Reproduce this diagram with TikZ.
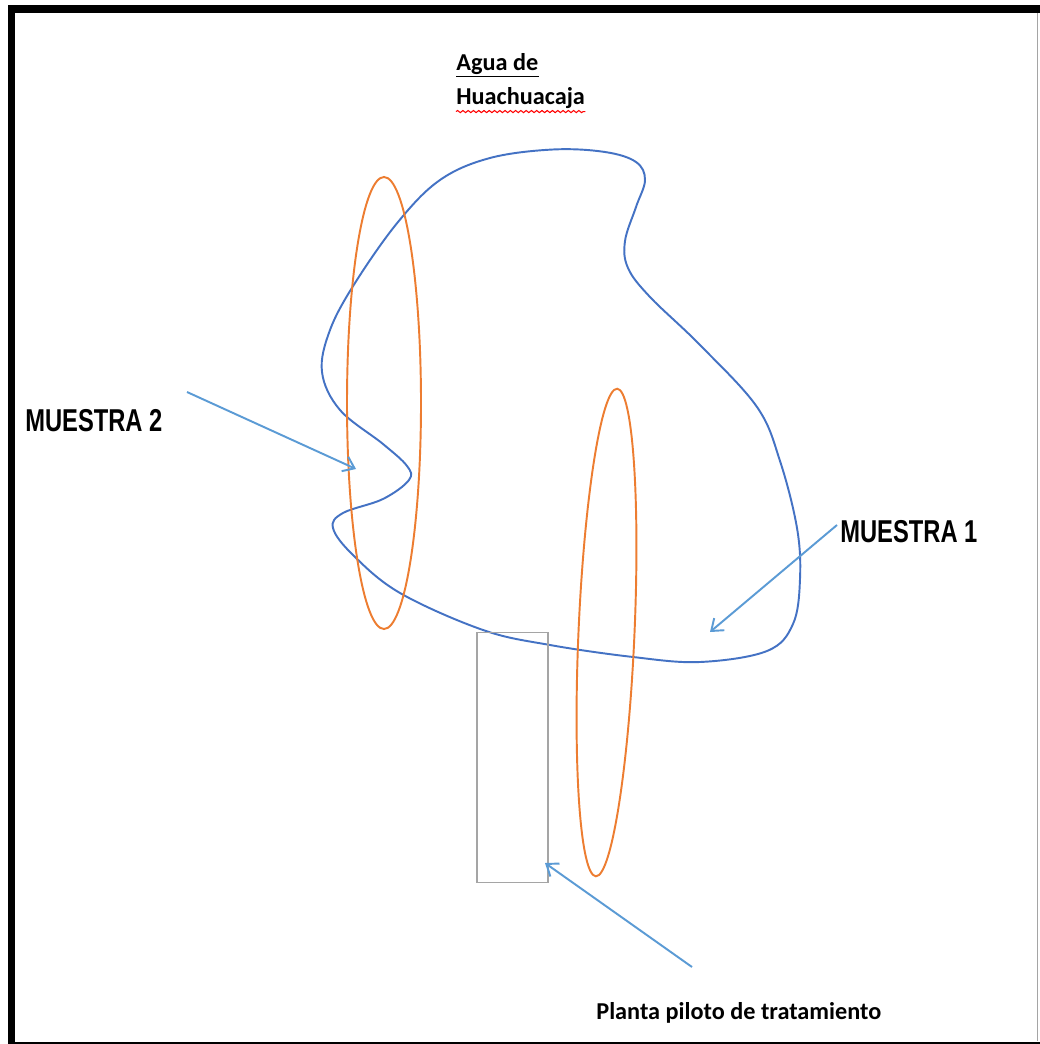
\documentclass[tikz,border=0pt]{standalone}
\usepackage{fontspec}
\usepackage{tikz}
\usetikzlibrary{arrows.meta,decorations.pathmorphing}
\setmainfont{Carlito}
\newfontfamily\narrowsans[FakeStretch=0.75]{Liberation Sans}
\definecolor{msblue}{RGB}{68,114,196}
\definecolor{msorange}{RGB}{237,125,49}
\definecolor{mslight}{RGB}{91,155,213}
\definecolor{msgrey}{RGB}{165,165,165}

\begin{document}
\begin{tikzpicture}[x=.02cm,y=-.02cm,
lbl/.style={font=\narrowsans\bfseries\fontsize{18}{20}\selectfont,anchor=base west,inner sep=0pt},
cal/.style={font=\bfseries\fontsize{13.8}{16}\selectfont,anchor=base west,inner sep=0pt},
arr/.style={-{Straight Barb[length=6pt,width=9pt]},line width=1.1pt,draw=mslight},
oval/.style={draw=msorange,line width=1.1pt},
blob/.style={draw=msblue,line width=1.1pt}]

\useasboundingbox(0,0)rectangle(1039,1044);
\fill[white](0,0)rectangle(1039,1044);
\draw[line width=.15cm](11.5,9)rectangle(1047,1046);
\draw[msgrey,line width=.8pt](1037.5,13)--(1037.5,1041);

\node[cal](agua)at(456,71){Agua de};
\node[cal](huach)at(456,105){Huachuacaja};
\draw[line width=1pt]([yshift=-.6pt]agua.south west)--([yshift=-.6pt]agua.south east);
\draw[red,line width=.6pt,decorate,decoration={snake,amplitude=.6pt,segment length=3pt}]
 ([yshift=-1.2pt]huach.south west)--([yshift=-1.2pt]huach.south east);

\draw[blob]plot[smooth cycle,tension=.6]coordinates{
 (553,149.5)(605,152)(636,162)(645,180)(636,207)(625,241)(628,268)(650,297)
 (700,345)(757,407)(780,461)(797,528)(800,579)(793,624)(767,651)(700,662)
 (633,657)(550,645)(483,630)(400,593)(353,555)(333,528)(343,513)(383,499)
 (409,480)(407,466)(383,444)(340,410)(322,372)(330,330)(355,283)(398,222)
 (440,180)(490,158)};

\draw[oval](384,403)ellipse[x radius=37,y radius=226];
\draw[oval,rotate around={-2.5:(606.5,632.5)}](606.5,632.5)ellipse[x radius=28,y radius=244];

\node[draw=msgrey,line width=1.1pt,minimum width=1.42cm,minimum height=5cm,inner sep=0pt](planta)at(512.5,757.5){};

\node[lbl](m2)at(25,431){MUESTRA 2};
\node[lbl](m1)at(840,542){MUESTRA 1};
\node[cal](pl)at(596,1019){Planta piloto de tratamiento};

\coordinate(m2from)at(187,392);
\coordinate(m2tip)at(356,469);
\coordinate(m1from)at(837,525);
\coordinate(m1tip)at(710,632);
\coordinate(plfrom)at(692,967);
\coordinate(pltip)at(545,863);
\draw[arr](m2from)--(m2tip);
\draw[arr](m1from)--(m1tip);
\draw[arr](plfrom)--(pltip);
\end{tikzpicture}
\end{document}
